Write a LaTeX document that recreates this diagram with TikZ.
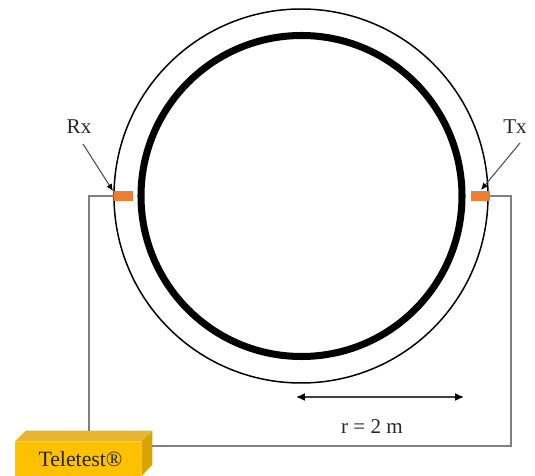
\documentclass[tikz,border=0pt]{standalone}
\usepackage{fontspec}
\setmainfont{Liberation Serif}
\usetikzlibrary{arrows.meta}
\definecolor{padorange}{HTML}{ED7D31}
\definecolor{boxfront}{HTML}{FFC000}
\definecolor{boxtop}{HTML}{E8B52E}
\definecolor{boxside}{HTML}{D9A300}
\tikzset{
    pad/.style={fill=padorange, minimum width=0.38cm, minimum height=0.2cm, inner sep=0pt},
    wire/.style={gray, line width=0.85pt},
    pointer/.style={black!70, line width=0.6pt, -{Latex[black,length=4pt,width=3.5pt]}},
    lbl/.style={font=\fontsize{12}{14}\selectfont, text=black!85, inner sep=0pt}
}
\begin{document}
\begin{tikzpicture}[x=0.02cm,y=-0.02cm]
    \useasboundingbox (0,0) rectangle (535,476);

    % Tuberia: pared exterior y anillo grueso
    \coordinate (centre) at (301,196);
    \draw[line width=0.85pt] (centre) circle (187);
    \draw[line width=4pt] (301.5,196) circle (160.5);

    % Sensores
    \node[pad] (rxpad) at (123.5,196) {};
    \node[pad] (txpad) at (480,196) {};

    % Caja del equipo
    \node[fill=boxfront, minimum width=2.52cm, minimum height=0.68cm, inner sep=0pt, lbl, font=\fontsize{12.4}{14}\selectfont] (teletest) at (78,459) {\hspace{0.1cm}Teletest®};
    \fill[boxtop] (teletest.north west) -- ++(11,-11) -- ++(126,0) -- (teletest.north east) -- cycle;
    \fill[boxside] (teletest.north east) -- ++(11,-11) -- ++(0,34) -- (teletest.south east) -- cycle;

    % Cableado
    \coordinate (rxdrop) at (89,431);
    \coordinate (txcorner) at (511,446);
    \coordinate (boxback) at (152,446);
    \draw[wire] (rxpad.west) -| (rxdrop);
    \draw[wire] (txpad.east) -| (txcorner) -- (boxback);

    % Etiquetas de los sensores
    \node[lbl] (rxlabel) at (79,127) {Rx};
    \node[lbl] (txlabel) at (515,127) {Tx};
    \coordinate (rxtail) at (83,144);
    \coordinate (rxtip) at (113,191);
    \coordinate (txtail) at (520,143);
    \coordinate (txtip) at (481,190);
    \draw[pointer] (rxtail) -- (rxtip);
    \draw[pointer] (txtail) -- (txtip);

    % Radio
    \coordinate (radiusleft) at (296,397);
    \coordinate (radiusright) at (464,397);
    \draw[black!75, line width=0.85pt, {Latex[black,length=5pt,width=4.5pt]}-{Latex[black,length=5pt,width=4.5pt]}] (radiusleft) -- (radiusright);
    \node[lbl] (radius) at (372,427) {r = 2 m};
\end{tikzpicture}
\end{document}
